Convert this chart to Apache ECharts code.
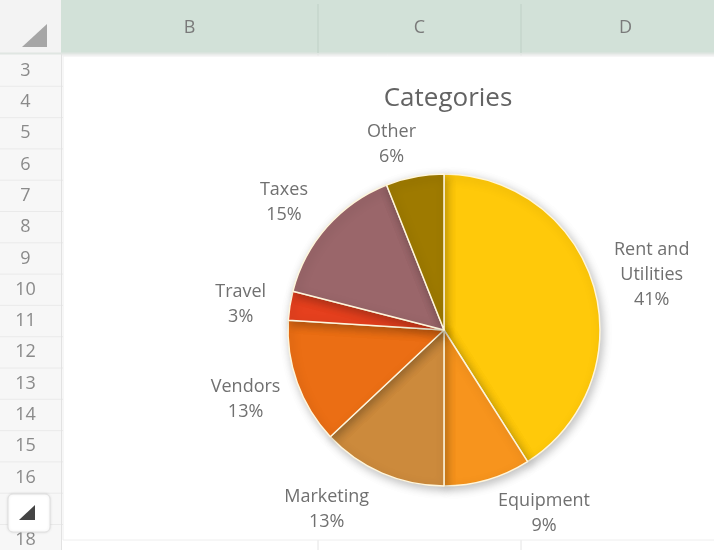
<!DOCTYPE html>
<html><head><meta charset="utf-8">
<script src="https://cdn.jsdelivr.net/npm/echarts@6/dist/echarts.min.js"></script>
<style>html,body{margin:0;padding:0;background:#fff;}#c{width:714px;height:550px;}</style>
</head><body><div id="c"></div>
<script>
const categories = ['Rent and Utilities','Equipment','Marketing','Vendors','Travel','Taxes','Other'];
const values = [41, 9, 13, 13, 3, 15, 6];
const sliceColors = ['#FFC90A','#F7941D','#CC8A3C','#EB6E14','#E5401E','#9A666A','#9E7A00'];
const columnLabels = ['B','C','D'];
const rowLabels = ['3','4','5','6','7','8','9','10','11','12','13','14','15','16','17','18'];
const chartTitle = 'Categories';

const chart = echarts.init(document.getElementById('c'));
const FONT = '"Open Sans", "Liberation Sans", sans-serif';
const headerH = 53, rowHdrW = 61, rowH = 31.3, row0Top = 55;
const colEdges = [61, 318, 521, 740];

const g = [];
for (let i = 0; i <= rowLabels.length; i++) {
  g.push({type:'line', shape:{x1:rowHdrW, y1:row0Top+i*rowH, x2:714, y2:row0Top+i*rowH}, style:{stroke:'#E4E4E4', lineWidth:1}, z:1});
}
for (let j = 1; j < colEdges.length-1; j++) {
  g.push({type:'line', shape:{x1:colEdges[j], y1:headerH, x2:colEdges[j], y2:550}, style:{stroke:'#E4E4E4', lineWidth:1}, z:1});
}
g.push({type:'rect', shape:{x:63, y:56, width:660, height:484}, style:{fill:'#fff', stroke:'#EEEEEE', lineWidth:1}, z:2});
g.push({type:'rect', shape:{x:0, y:0, width:714, height:headerH}, style:{fill:'#D2E1D8'}, z:3});
g.push({type:'rect', shape:{x:0, y:0, width:rowHdrW, height:headerH}, style:{fill:'#F3F3F3'}, z:4});
g.push({type:'polygon', shape:{points:[[47,24],[47,47],[22,47]]}, style:{fill:'#A6A6A6'}, z:5});
g.push({type:'line', shape:{x1:0, y1:headerH+0.5, x2:714, y2:headerH+0.5}, style:{stroke:'#E0E6E2', lineWidth:2}, z:5});
columnLabels.forEach((c, j) => {
  g.push({type:'text', x:(colEdges[j]+colEdges[j+1])/2 - (j===2?5:0), y:28, style:{text:c, fill:'#7A7A7A', font:'18px '+FONT, align:'center', verticalAlign:'middle'}, z:5});
  if (j>0) g.push({type:'line', shape:{x1:colEdges[j], y1:4, x2:colEdges[j], y2:headerH}, style:{stroke:'#BFD0C6', lineWidth:1}, z:5});
});
g.push({type:'rect', shape:{x:0, y:headerH+1, width:rowHdrW, height:550}, style:{fill:'#F7F7F7'}, z:3});
g.push({type:'line', shape:{x1:rowHdrW+0.5, y1:headerH, x2:rowHdrW+0.5, y2:550}, style:{stroke:'#E2E2E2', lineWidth:1}, z:4});
rowLabels.forEach((r, i) => {
  g.push({type:'text', x:rowHdrW/2 - 5, y:row0Top+i*rowH+rowH/2, style:{text:r, fill:'#8A8A8A', font:'18px '+FONT, align:'center', verticalAlign:'middle'}, z:5});
  g.push({type:'line', shape:{x1:0, y1:row0Top+(i+1)*rowH, x2:rowHdrW, y2:row0Top+(i+1)*rowH}, style:{stroke:'#EAEAEA', lineWidth:1}, z:4});
});
g.push({type:'rect', shape:{x:8, y:494, width:42, height:38, r:5}, style:{fill:'#fff', stroke:'#E0E0E0', lineWidth:1, shadowBlur:3, shadowColor:'rgba(0,0,0,0.1)'}, z:6});
g.push({type:'polygon', shape:{points:[[35,505],[35,520],[19,520]]}, style:{fill:'#444'}, z:7});

// small nudges applied on top of ECharts' own outside-label placement
const labelNudge = [[-4,-6],[0,14],[0,18],[7,10],[1,2],[1,-11],[10,-13]];

const option = {
  backgroundColor:'#fff',
  animation:false,
  title:{text:chartTitle, left:443, top:81, textAlign:'center', textStyle:{fontFamily:FONT, fontSize:26, fontWeight:'normal', color:'#636363'}},
  graphic:{elements:g},
  series:[{
    type:'pie', center:[444,330], radius:156, startAngle:90, clockwise:true,
    z:10,
    data: categories.map((n,i)=>({name:n, value:values[i], itemStyle:{color:sliceColors[i]}})),
    itemStyle:{borderColor:'#FFF6DC', borderWidth:1.5, shadowBlur:10, shadowOffsetX:2, shadowOffsetY:3, shadowColor:'rgba(0,0,0,0.25)'},
    label:{show:true, position:'outside', formatter: p => {
      const nm = p.name === 'Rent and Utilities' ? 'Rent and\nUtilities' : p.name;
      return nm + '\n' + Math.round(p.percent) + '%';
    }, fontFamily:FONT, fontSize:18, color:'#707070', lineHeight:25},
    labelLine:{show:false, length:20, length2:0},
    labelLayout: function (p) {
      const r = p.labelRect;
      const cx = r.x + r.width/2, cy = r.y + r.height/2;
      const n = labelNudge[p.dataIndex] || [0,0];
      return {x: cx + n[0], y: cy + n[1], align:'center', verticalAlign:'middle'};
    },
    emphasis:{disabled:true}
  }]
};
chart.setOption(option);
</script></body></html>
